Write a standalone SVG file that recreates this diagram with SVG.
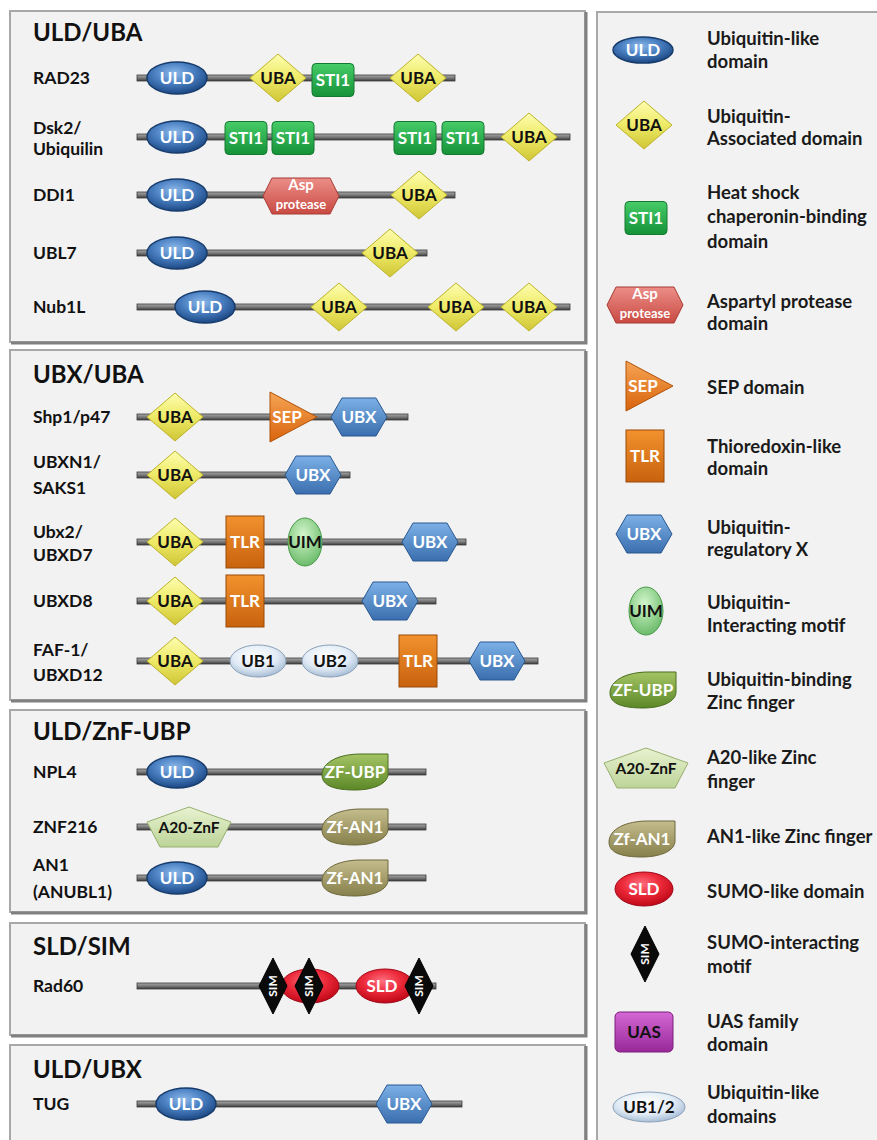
<svg xmlns="http://www.w3.org/2000/svg" width="877" height="1140" viewBox="0 0 877 1140">
<style>
text{font-family:Lato,"Open Sans","Liberation Sans",sans-serif;font-weight:bold}
.lbl{font-size:17.5px;fill:#111}
.ttl{font-size:24px;fill:#111}
.leg{font-size:18.5px;fill:#1a1a1a}
.dw{font-size:17px;fill:#fff;text-anchor:middle}
.db{font-size:17px;fill:#111;text-anchor:middle}
.as{font-size:15px}
.sm{font-size:13px}
.sx{font-size:12px}
.panel{fill:#f2f2f2;stroke:#a8a8a8;stroke-width:2}
.sh{fill:none;stroke:#808080;stroke-width:3}
.uld{fill:url(#gULD);stroke:#173c6c;stroke-width:1.5}
.uba{fill:url(#gUBA);stroke:#bdb32a;stroke-width:1}
.sti{fill:url(#gSTI);stroke:#137a30;stroke-width:1}
.asp{fill:url(#gASP);stroke:#a83a34;stroke-width:1}
.sep{fill:url(#gSEP);stroke:#b0520a;stroke-width:1}
.tlr{fill:url(#gTLR);stroke:#9a4a08;stroke-width:1}
.ubx{fill:url(#gUBX);stroke:#2a5890;stroke-width:1}
.uim{fill:url(#gUIM);stroke:#4a9a4a;stroke-width:1}
.ub{fill:url(#gUB);stroke:#8aa0b8;stroke-width:1}
.zf{fill:url(#gZF);stroke:#4a6e1e;stroke-width:1}
.a20{fill:url(#gA20);stroke:#98b070;stroke-width:1}
.an1{fill:url(#gAN1);stroke:#6e683c;stroke-width:1}
.sld{fill:url(#gSLD);stroke:#a00818;stroke-width:1}
.sim{fill:#0a0a0a;stroke:#000;stroke-width:1}
.uas{fill:url(#gUAS);stroke:#7a1e7a;stroke-width:1}
.bb{fill:url(#gBB);stroke:#3a3a3a;stroke-width:0.8}
</style>
<defs>
<radialGradient id="gULD" cx="45%" cy="35%" r="65%"><stop offset="0" stop-color="#8cb8ea"/><stop offset="0.5" stop-color="#4a80c2"/><stop offset="1" stop-color="#1c4884"/></radialGradient>
<linearGradient id="gUBA" x1="0" y1="0" x2="0" y2="1"><stop offset="0" stop-color="#fdfdb0"/><stop offset="0.5" stop-color="#eeea66"/><stop offset="1" stop-color="#cfc536"/></linearGradient>
<linearGradient id="gSTI" x1="0" y1="0" x2="0" y2="1"><stop offset="0" stop-color="#46cc68"/><stop offset="1" stop-color="#169238"/></linearGradient>
<linearGradient id="gASP" x1="0" y1="0" x2="0" y2="1"><stop offset="0" stop-color="#ec8e88"/><stop offset="1" stop-color="#c84a42"/></linearGradient>
<linearGradient id="gSEP" x1="0" y1="0" x2="0" y2="1"><stop offset="0" stop-color="#f6a454"/><stop offset="1" stop-color="#d8640c"/></linearGradient>
<linearGradient id="gTLR" x1="0" y1="0" x2="0" y2="1"><stop offset="0" stop-color="#f2922e"/><stop offset="1" stop-color="#c8620e"/></linearGradient>
<linearGradient id="gUBX" x1="0" y1="0" x2="0" y2="1"><stop offset="0" stop-color="#7cb0e6"/><stop offset="1" stop-color="#3a6eae"/></linearGradient>
<radialGradient id="gUIM" cx="45%" cy="35%" r="65%"><stop offset="0" stop-color="#d4f6cc"/><stop offset="1" stop-color="#6cbc6c"/></radialGradient>
<radialGradient id="gUB" cx="45%" cy="35%" r="65%"><stop offset="0" stop-color="#ffffff"/><stop offset="0.6" stop-color="#e2ecf6"/><stop offset="1" stop-color="#a8bed6"/></radialGradient>
<linearGradient id="gZF" x1="0" y1="0" x2="0" y2="1"><stop offset="0" stop-color="#a4c464"/><stop offset="1" stop-color="#5c8828"/></linearGradient>
<linearGradient id="gA20" x1="0" y1="0" x2="0" y2="1"><stop offset="0" stop-color="#e8f2d0"/><stop offset="1" stop-color="#bcd498"/></linearGradient>
<linearGradient id="gAN1" x1="0" y1="0" x2="0" y2="1"><stop offset="0" stop-color="#c4bc8c"/><stop offset="1" stop-color="#86804c"/></linearGradient>
<radialGradient id="gSLD" cx="45%" cy="35%" r="65%"><stop offset="0" stop-color="#ff7080"/><stop offset="0.5" stop-color="#ec2a3a"/><stop offset="1" stop-color="#c00818"/></radialGradient>
<linearGradient id="gUAS" x1="0" y1="0" x2="0" y2="1"><stop offset="0" stop-color="#d468d4"/><stop offset="1" stop-color="#982898"/></linearGradient>
<linearGradient id="gBB" x1="0" y1="0" x2="0" y2="1"><stop offset="0" stop-color="#a8a8a8"/><stop offset="0.5" stop-color="#7a7a7a"/><stop offset="1" stop-color="#3c3c3c"/></linearGradient>
<ellipse id="sULD" rx="30" ry="16"/>
<ellipse id="sULDl" rx="30" ry="13"/>
<polygon id="sUBA" points="0,-24 28,0 0,24 -28,0"/>
<rect id="sSTI" x="-21" y="-16.5" width="42" height="33" rx="4"/>
<polygon id="sASP" points="-38,0 -29,-18 29,-18 38,0 29,18 -29,18"/>
<polygon id="sSEP" points="-16,-25 31,0 -16,25"/>
<rect id="sTLR" x="-19" y="-26" width="38" height="52"/>
<polygon id="sUBX" points="-28,0 -17,-19 17,-19 28,0 17,19 -17,19"/>
<ellipse id="sUIM" rx="17" ry="24"/>
<ellipse id="sUB" rx="28" ry="16"/>
<ellipse id="sUBl" rx="36" ry="15"/>
<path id="sZF" d="M-33,3 C-33,-10 -16,-18 6,-18 L33,-18 L33,2 C33,12 18,18 0,18 C-20,18 -33,14 -33,3 Z"/>
<polygon id="sA20" points="0,-20 42,-5 29,20 -29,20 -42,-5"/>
<ellipse id="sSLD" rx="29" ry="17"/>
<polygon id="sSIM" points="0,-28 14,0 0,28 -14,0"/>
<rect id="sUAS" x="-29" y="-20" width="58" height="40" rx="5"/>
</defs>

<rect width="877" height="1140" fill="#ffffff"/>

<g id="panels">
<rect class="panel" x="10" y="11" width="575" height="331"/><path class="sh" d="M586,12 V343 H11"/>
<rect class="panel" x="10" y="350" width="575" height="350"/><path class="sh" d="M586,351 V701 H11"/>
<rect class="panel" x="10" y="710" width="575" height="202"/><path class="sh" d="M586,711 V913 H11"/>
<rect class="panel" x="10" y="923" width="575" height="112"/><path class="sh" d="M586,924 V1036 H11"/>
<rect class="panel" x="10" y="1045" width="575" height="110"/><path class="sh" d="M586,1046 V1145"/>
<rect class="panel" x="597" y="12" width="290" height="1140"/>
</g>

<g id="titles">
<text class="ttl" x="33" y="41">ULD/UBA</text>
<text class="ttl" x="33" y="383">UBX/UBA</text>
<text class="ttl" x="33" y="740">ULD/ZnF-UBP</text>
<text class="ttl" x="33" y="955">SLD/SIM</text>
<text class="ttl" x="33" y="1078">ULD/UBX</text>
</g>

<g id="connectors">
<rect class="bb" x="137" y="75" width="318" height="6"/>
<rect class="bb" x="137" y="134" width="433" height="6"/>
<rect class="bb" x="137" y="192" width="318" height="6"/>
<rect class="bb" x="137" y="250" width="290" height="6"/>
<rect class="bb" x="137" y="304" width="433" height="6"/>
<rect class="bb" x="137" y="414" width="271" height="6"/>
<rect class="bb" x="137" y="472" width="213" height="6"/>
<rect class="bb" x="137" y="539" width="329" height="6"/>
<rect class="bb" x="137" y="598" width="299" height="6"/>
<rect class="bb" x="137" y="658" width="401" height="6"/>
<rect class="bb" x="137" y="769" width="289" height="6"/>
<rect class="bb" x="137" y="824" width="289" height="6"/>
<rect class="bb" x="137" y="875" width="289" height="6"/>
<rect class="bb" x="137" y="983" width="299" height="6"/>
<rect class="bb" x="137" y="1101" width="325" height="6"/>
</g>

<g id="rad23">
<text class="lbl" x="33" y="84">RAD23</text>
<use href="#sULD" class="uld" x="177" y="78"/><text class="dw" x="177" y="84">ULD</text>
<use href="#sUBA" class="uba" x="278" y="78"/><text class="db" x="278" y="84">UBA</text>
<use href="#sSTI" class="sti" x="333" y="80"/><text class="dw" x="333" y="86">STI1</text>
<use href="#sUBA" class="uba" x="418" y="78"/><text class="db" x="418" y="84">UBA</text>
</g>

<g id="dsk2">
<text class="lbl" x="33" y="134">Dsk2/</text>
<text class="lbl" x="33" y="155">Ubiquilin</text>
<use href="#sULD" class="uld" x="177" y="137"/><text class="dw" x="177" y="143">ULD</text>
<use href="#sSTI" class="sti" x="246" y="138"/><text class="dw" x="246" y="144">STI1</text>
<use href="#sSTI" class="sti" x="293" y="138"/><text class="dw" x="293" y="144">STI1</text>
<use href="#sSTI" class="sti" x="415" y="138"/><text class="dw" x="415" y="144">STI1</text>
<use href="#sSTI" class="sti" x="463" y="138"/><text class="dw" x="463" y="144">STI1</text>
<use href="#sUBA" class="uba" x="529" y="137"/><text class="db" x="529" y="143">UBA</text>
</g>

<g id="ddi1">
<text class="lbl" x="33" y="201">DDI1</text>
<use href="#sULD" class="uld" x="177" y="195"/><text class="dw" x="177" y="201">ULD</text>
<use href="#sASP" class="asp" x="301" y="196"/><text class="dw as" x="301" y="190">Asp</text><text class="dw sm" x="301" y="209">protease</text>
<use href="#sUBA" class="uba" x="419" y="195"/><text class="db" x="419" y="201">UBA</text>
</g>

<g id="ubl7">
<text class="lbl" x="33" y="259">UBL7</text>
<use href="#sULD" class="uld" x="177" y="253"/><text class="dw" x="177" y="259">ULD</text>
<use href="#sUBA" class="uba" x="390" y="253"/><text class="db" x="390" y="259">UBA</text>
</g>

<g id="nub1l">
<text class="lbl" x="33" y="313">Nub1L</text>
<use href="#sULD" class="uld" x="205" y="307"/><text class="dw" x="205" y="313">ULD</text>
<use href="#sUBA" class="uba" x="339" y="307"/><text class="db" x="339" y="313">UBA</text>
<use href="#sUBA" class="uba" x="456" y="307"/><text class="db" x="456" y="313">UBA</text>
<use href="#sUBA" class="uba" x="529" y="307"/><text class="db" x="529" y="313">UBA</text>
</g>

<g id="shp1">
<text class="lbl" x="33" y="423">Shp1/p47</text>
<use href="#sUBA" class="uba" x="175" y="417"/><text class="db" x="175" y="423">UBA</text>
<use href="#sSEP" class="sep" x="286" y="417"/><text class="dw" x="287" y="423">SEP</text>
<use href="#sUBX" class="ubx" x="359" y="417"/><text class="dw" x="359" y="423">UBX</text>
</g>

<g id="ubxn1">
<text class="lbl" x="33" y="468">UBXN1/</text>
<text class="lbl" x="33" y="494">SAKS1</text>
<use href="#sUBA" class="uba" x="175" y="475"/><text class="db" x="175" y="481">UBA</text>
<use href="#sUBX" class="ubx" x="313" y="475"/><text class="dw" x="313" y="481">UBX</text>
</g>

<g id="ubx2">
<text class="lbl" x="33" y="538">Ubx2/</text>
<text class="lbl" x="33" y="561">UBXD7</text>
<use href="#sUBA" class="uba" x="175" y="542"/><text class="db" x="175" y="548">UBA</text>
<use href="#sTLR" class="tlr" x="245" y="542"/><text class="dw" x="245" y="548">TLR</text>
<use href="#sUIM" class="uim" x="305" y="542"/><text class="db" x="305" y="548">UIM</text>
<use href="#sUBX" class="ubx" x="430" y="542"/><text class="dw" x="430" y="548">UBX</text>
</g>

<g id="ubxd8">
<text class="lbl" x="33" y="607">UBXD8</text>
<use href="#sUBA" class="uba" x="175" y="601"/><text class="db" x="175" y="607">UBA</text>
<use href="#sTLR" class="tlr" x="245" y="601"/><text class="dw" x="245" y="607">TLR</text>
<use href="#sUBX" class="ubx" x="390" y="601"/><text class="dw" x="390" y="607">UBX</text>
</g>

<g id="faf1">
<text class="lbl" x="33" y="656">FAF-1/</text>
<text class="lbl" x="33" y="681">UBXD12</text>
<use href="#sUBA" class="uba" x="175" y="661"/><text class="db" x="175" y="667">UBA</text>
<use href="#sUB" class="ub" x="258" y="661"/><text class="db" x="258" y="667">UB1</text>
<use href="#sUB" class="ub" x="330" y="661"/><text class="db" x="330" y="667">UB2</text>
<use href="#sTLR" class="tlr" x="418" y="661"/><text class="dw" x="418" y="667">TLR</text>
<use href="#sUBX" class="ubx" x="497" y="661"/><text class="dw" x="497" y="667">UBX</text>
</g>

<g id="npl4">
<text class="lbl" x="33" y="778">NPL4</text>
<use href="#sULD" class="uld" x="177" y="772"/><text class="dw" x="177" y="778">ULD</text>
<use href="#sZF" class="zf" x="355" y="772"/><text class="dw" x="355" y="778">ZF-UBP</text>
</g>

<g id="znf216">
<text class="lbl" x="33" y="833">ZNF216</text>
<use href="#sA20" class="a20" x="189" y="827"/><text class="db" x="189" y="833" style="font-size:15.5px">A20-ZnF</text>
<use href="#sZF" class="an1" x="355" y="827"/><text class="dw" x="355" y="833">Zf-AN1</text>
</g>

<g id="an1">
<text class="lbl" x="33" y="871">AN1</text>
<text class="lbl" x="33" y="898">(ANUBL1)</text>
<use href="#sULD" class="uld" x="177" y="878"/><text class="dw" x="177" y="884">ULD</text>
<use href="#sZF" class="an1" x="355" y="878"/><text class="dw" x="355" y="884">Zf-AN1</text>
</g>

<g id="rad60">
<text class="lbl" x="33" y="992">Rad60</text>
<use href="#sSLD" class="sld" x="310" y="986"/>
<use href="#sSLD" class="sld" x="385" y="986"/><text class="dw" x="382" y="992">SLD</text>
<use href="#sSIM" class="sim" x="273" y="986"/><text class="dw sx" transform="translate(277,986) rotate(-90)">SIM</text>
<use href="#sSIM" class="sim" x="309" y="986"/><text class="dw sx" transform="translate(313,986) rotate(-90)">SIM</text>
<use href="#sSIM" class="sim" x="419" y="986"/><text class="dw sx" transform="translate(423,986) rotate(-90)">SIM</text>
</g>

<g id="tug">
<text class="lbl" x="33" y="1110">TUG</text>
<use href="#sULD" class="uld" x="186" y="1104"/><text class="dw" x="186" y="1110">ULD</text>
<use href="#sUBX" class="ubx" x="404" y="1104"/><text class="dw" x="404" y="1110">UBX</text>
</g>

<g id="legend">
<g id="leg-uld"><use href="#sULDl" class="uld" x="643" y="50"/><text class="dw" x="643" y="56">ULD</text>
<text class="leg" x="707" y="45">Ubiquitin-like</text><text class="leg" x="707" y="68">domain</text></g>
<g id="leg-uba"><use href="#sUBA" class="uba" x="644" y="125"/><text class="db" x="644" y="131">UBA</text>
<text class="leg" x="707" y="123">Ubiquitin-</text><text class="leg" x="707" y="145">Associated domain</text></g>
<g id="leg-sti1"><use href="#sSTI" class="sti" x="646" y="218"/><text class="dw" x="646" y="224">STI1</text>
<text class="leg" x="707" y="199">Heat shock</text><text class="leg" x="707" y="223">chaperonin-binding</text><text class="leg" x="707" y="248">domain</text></g>
<g id="leg-asp"><use href="#sASP" class="asp" x="645" y="305"/><text class="dw as" x="645" y="299">Asp</text><text class="dw sm" x="645" y="318">protease</text>
<text class="leg" x="707" y="308">Aspartyl protease</text><text class="leg" x="707" y="330">domain</text></g>
<g id="leg-sep"><use href="#sSEP" class="sep" x="642" y="386"/><text class="dw" x="643" y="392">SEP</text>
<text class="leg" x="707" y="394">SEP domain</text></g>
<g id="leg-tlr"><use href="#sTLR" class="tlr" x="645" y="456"/><text class="dw" x="645" y="462">TLR</text>
<text class="leg" x="707" y="453">Thioredoxin-like</text><text class="leg" x="707" y="475">domain</text></g>
<g id="leg-ubx"><use href="#sUBX" class="ubx" x="644" y="534"/><text class="dw" x="644" y="540">UBX</text>
<text class="leg" x="707" y="534">Ubiquitin-</text><text class="leg" x="707" y="556">regulatory X</text></g>
<g id="leg-uim"><use href="#sUIM" class="uim" x="646" y="611"/><text class="db" x="646" y="617">UIM</text>
<text class="leg" x="707" y="609">Ubiquitin-</text><text class="leg" x="707" y="632">Interacting motif</text></g>
<g id="leg-zfubp"><use href="#sZF" class="zf" x="643" y="690"/><text class="dw" x="643" y="696">ZF-UBP</text>
<text class="leg" x="707" y="686">Ubiquitin-binding</text><text class="leg" x="707" y="709">Zinc finger</text></g>
<g id="leg-a20"><use href="#sA20" class="a20" x="646" y="768"/><text class="db" x="646" y="774" style="font-size:15.5px">A20-ZnF</text>
<text class="leg" x="707" y="764">A20-like Zinc</text><text class="leg" x="707" y="788">finger</text></g>
<g id="leg-an1"><use href="#sZF" class="an1" x="642" y="839"/><text class="dw" x="642" y="845">Zf-AN1</text>
<text class="leg" x="707" y="843">AN1-like Zinc finger</text></g>
<g id="leg-sld"><use href="#sSLD" class="sld" x="644" y="889"/><text class="dw" x="644" y="895">SLD</text>
<text class="leg" x="707" y="898">SUMO-like domain</text></g>
<g id="leg-sim"><use href="#sSIM" class="sim" x="645" y="954"/><text class="dw sx" transform="translate(649,954) rotate(-90)">SIM</text>
<text class="leg" x="707" y="949">SUMO-interacting</text><text class="leg" x="707" y="973">motif</text></g>
<g id="leg-uas"><use href="#sUAS" class="uas" x="644" y="1032"/><text class="db" x="644" y="1038">UAS</text>
<text class="leg" x="707" y="1028">UAS family</text><text class="leg" x="707" y="1051">domain</text></g>
<g id="leg-ub"><use href="#sUBl" class="ub" x="649" y="1107"/><text class="db" x="649" y="1113">UB1/2</text>
<text class="leg" x="707" y="1099">Ubiquitin-like</text><text class="leg" x="707" y="1123">domains</text></g>
</g>
</svg>
